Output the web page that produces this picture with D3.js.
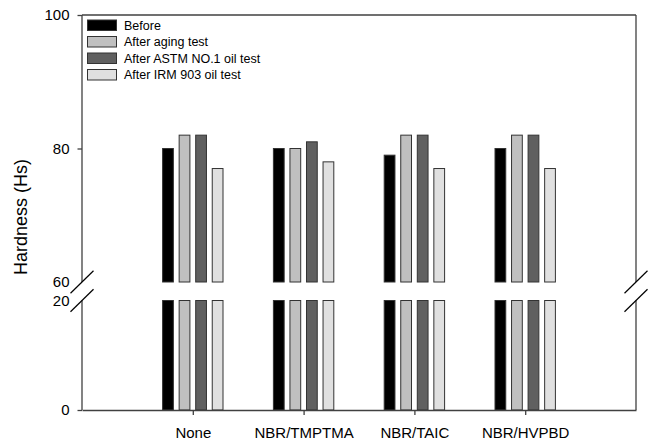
<!DOCTYPE html>
<html>
<head>
<meta charset="utf-8">
<script src="https://cdn.jsdelivr.net/npm/d3@7"></script>
<style>
  body { margin: 0; background: #fff; }
  text { font-family: "Liberation Sans", Arial, sans-serif; }
</style>
</head>
<body>
<script>
// data
let categories = ["None", "NBR/TMPTMA", "NBR/TAIC", "NBR/HVPBD"];
let seriesNames = ["Before", "After aging test", "After ASTM NO.1 oil test", "After IRM 903 oil test"];
let seriesColors = ["#000000", "#c0c0c0", "#606060", "#e0e0e0"];
let before   = [80, 80, 79, 80];
let aging    = [82, 80, 82, 82];
let astm     = [82, 81, 82, 82];
let irm      = [77, 78, 77, 77];
let series = [before, aging, astm, irm];
let topTicks = [60, 80, 100];
let bottomTicks = [0, 20];

let svg = d3.select("body")
            .append("svg")
            .attr("width", 653)
            .attr("height", 441);

let left = 82, right = 636;
let axisColor = "#404040";

let x = d3.scaleLinear().domain([0, 5]).range([left, right]);
let inner = d3.scaleBand().domain(d3.range(4)).range([-30.2, 30.2]).paddingInner(0.35);

// broken y axis: two segments
let yTop = d3.scaleLinear().domain([60, 100]).range([282, 15]);
let yBot = d3.scaleLinear().domain([0, 20]).range([410, 300.5]);

// bars
series.forEach((vals, s) => {
    let g = svg.append("g");
    // upper segment
    g.selectAll(".top").data(vals).enter().append("rect")
        .attr("x", (d, i) => x(i + 1) + inner(s))
        .attr("width", inner.bandwidth())
        .attr("y", d => yTop(d))
        .attr("height", d => yTop(60) - yTop(d))
        .attr("fill", seriesColors[s])
        .attr("stroke", "#333")
        .attr("stroke-width", 1);
    // lower segment
    g.selectAll(".bot").data(vals).enter().append("rect")
        .attr("x", (d, i) => x(i + 1) + inner(s))
        .attr("width", inner.bandwidth())
        .attr("y", d => yBot(Math.min(d, 20)))
        .attr("height", d => yBot(0) - yBot(Math.min(d, 20)))
        .attr("fill", seriesColors[s])
        .attr("stroke", "#333")
        .attr("stroke-width", 1);
});

// frame lines
strLine = (x1, y1, x2, y2, w) => {
    svg.append("line")
        .attr("x1", x1).attr("y1", y1)
        .attr("x2", x2).attr("y2", y2)
        .attr("stroke", axisColor)
        .attr("stroke-width", w || 1.3);
};
strLine(left, yTop(100), right, yTop(100));
strLine(left, yTop(100), left, yTop(60));
strLine(left, yBot(20), left, yBot(0));
strLine(right, yTop(100), right, yTop(60));
strLine(right, yBot(20), right, yBot(0));

// break marks
[left, right].forEach(cx => {
    [yTop(60), yBot(20)].forEach(cy => {
        svg.append("line")
            .attr("x1", cx - 11.5).attr("y1", cy + 11.3)
            .attr("x2", cx + 11.5).attr("y2", cy - 11.3)
            .attr("stroke", "#000")
            .attr("stroke-width", 1.2);
    });
});

// y axes
let yAxisTop = svg.append("g")
    .attr("transform", `translate(${left},0)`)
    .call(d3.axisLeft(yTop).tickValues(topTicks).tickSize(4.5).tickPadding(8).tickSizeOuter(0));
let yAxisBot = svg.append("g")
    .attr("transform", `translate(${left},0)`)
    .call(d3.axisLeft(yBot).tickValues(bottomTicks).tickSize(4.5).tickPadding(8).tickSizeOuter(0));
[yAxisTop, yAxisBot].forEach(a => {
    a.select(".domain").remove();
    a.selectAll("line").attr("stroke", axisColor).attr("stroke-width", 1.3)
        .attr("opacity", d => (d === 60 || d === 20) ? 0 : 1);
    a.selectAll("text").attr("font-size", 15).attr("fill", "#000")
        .attr("font-family", "Liberation Sans, Arial, sans-serif");
});

// x axis
let xAxis = svg.append("g")
    .attr("transform", `translate(0,${yBot(0)})`)
    .call(d3.axisBottom(x).tickValues([1, 2, 3, 4])
        .tickFormat(d => categories[d - 1])
        .tickSize(5).tickPadding(12).tickSizeOuter(0));
xAxis.select(".domain").attr("stroke", axisColor).attr("stroke-width", 1.3);
xAxis.selectAll("line").attr("stroke", axisColor).attr("stroke-width", 1.3);
xAxis.selectAll("text").attr("font-size", 15).attr("fill", "#000")
    .attr("font-family", "Liberation Sans, Arial, sans-serif");

// y label
svg.append("text")
    .attr("transform", "translate(27,217) rotate(-90)")
    .attr("text-anchor", "middle")
    .attr("font-size", 18)
    .text("Hardness (Hs)");

// legend
let legend = svg.append("g").attr("transform", "translate(87.5,20)");
seriesNames.forEach((name, i) => {
    legend.append("rect")
        .attr("x", 0).attr("y", i * 16.5)
        .attr("width", 29).attr("height", 10.5)
        .attr("fill", seriesColors[i])
        .attr("stroke", "#333")
        .attr("stroke-width", 1);
    legend.append("text")
        .attr("x", 36.5).attr("y", i * 16.5 + 9.8)
        .attr("font-size", 12.5)
        .text(name);
});
</script>
</body>
</html>
